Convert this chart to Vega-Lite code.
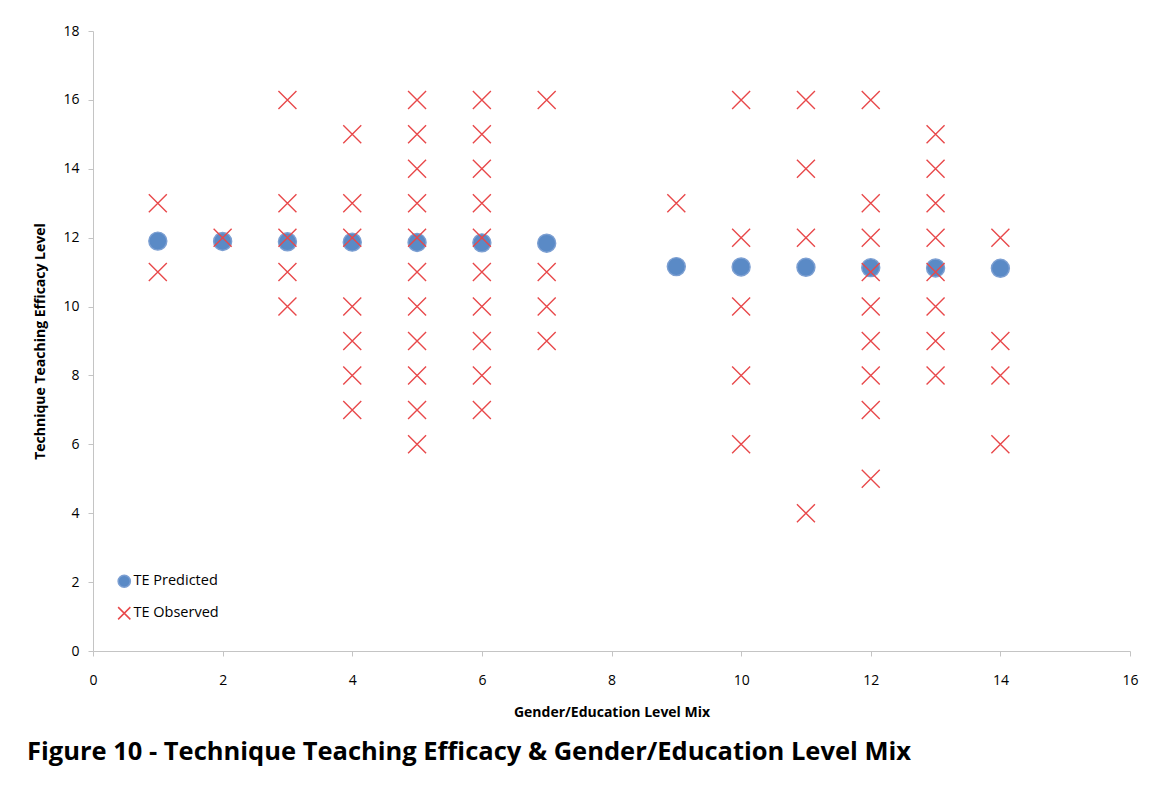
{
  "$schema": "https://vega.github.io/schema/vega-lite/v6.json",
  "width": 1037,
  "height": 620,
  "autosize": {"type": "none"},
  "padding": {"left": 93, "top": 31, "right": 19, "bottom": 137},
  "background": "white",
  "config": {
    "view": {"stroke": null},
    "font": "Open Sans",
    "axis": {
      "grid": false,
      "labelFlush": false,
      "domainColor": "#c4c4c4",
      "tickColor": "#c4c4c4",
      "tickSize": 5,
      "labelFont": "Open Sans",
      "labelFontSize": 14,
      "labelColor": "#000000",
      "titleFont": "Open Sans",
      "titleFontSize": 14,
      "titleFontWeight": "bold",
      "titleColor": "#000000"
    }
  },
  "title": {
    "text": "Figure 10 - Technique Teaching Efficacy & Gender/Education Level Mix",
    "orient": "bottom",
    "anchor": "start",
    "frame": "group",
    "dx": -66,
    "offset": 21,
    "font": "Open Sans",
    "fontSize": 25.5,
    "fontWeight": "bold",
    "color": "#000000"
  },
  "data": {
    "values": [
      {"x": 1, "y": 11.9, "series": "TE Predicted"},
      {"x": 2, "y": 11.89, "series": "TE Predicted"},
      {"x": 3, "y": 11.88, "series": "TE Predicted"},
      {"x": 4, "y": 11.87, "series": "TE Predicted"},
      {"x": 5, "y": 11.86, "series": "TE Predicted"},
      {"x": 6, "y": 11.85, "series": "TE Predicted"},
      {"x": 7, "y": 11.84, "series": "TE Predicted"},
      {"x": 9, "y": 11.16, "series": "TE Predicted"},
      {"x": 10, "y": 11.15, "series": "TE Predicted"},
      {"x": 11, "y": 11.14, "series": "TE Predicted"},
      {"x": 12, "y": 11.13, "series": "TE Predicted"},
      {"x": 13, "y": 11.12, "series": "TE Predicted"},
      {"x": 14, "y": 11.11, "series": "TE Predicted"},
      {"x": 1, "y": 13, "series": "TE Observed"},
      {"x": 1, "y": 11, "series": "TE Observed"},
      {"x": 2, "y": 12, "series": "TE Observed"},
      {"x": 3, "y": 16, "series": "TE Observed"},
      {"x": 3, "y": 13, "series": "TE Observed"},
      {"x": 3, "y": 12, "series": "TE Observed"},
      {"x": 3, "y": 11, "series": "TE Observed"},
      {"x": 3, "y": 10, "series": "TE Observed"},
      {"x": 4, "y": 15, "series": "TE Observed"},
      {"x": 4, "y": 13, "series": "TE Observed"},
      {"x": 4, "y": 12, "series": "TE Observed"},
      {"x": 4, "y": 10, "series": "TE Observed"},
      {"x": 4, "y": 9, "series": "TE Observed"},
      {"x": 4, "y": 8, "series": "TE Observed"},
      {"x": 4, "y": 7, "series": "TE Observed"},
      {"x": 5, "y": 16, "series": "TE Observed"},
      {"x": 5, "y": 15, "series": "TE Observed"},
      {"x": 5, "y": 14, "series": "TE Observed"},
      {"x": 5, "y": 13, "series": "TE Observed"},
      {"x": 5, "y": 12, "series": "TE Observed"},
      {"x": 5, "y": 11, "series": "TE Observed"},
      {"x": 5, "y": 10, "series": "TE Observed"},
      {"x": 5, "y": 9, "series": "TE Observed"},
      {"x": 5, "y": 8, "series": "TE Observed"},
      {"x": 5, "y": 7, "series": "TE Observed"},
      {"x": 5, "y": 6, "series": "TE Observed"},
      {"x": 6, "y": 16, "series": "TE Observed"},
      {"x": 6, "y": 15, "series": "TE Observed"},
      {"x": 6, "y": 14, "series": "TE Observed"},
      {"x": 6, "y": 13, "series": "TE Observed"},
      {"x": 6, "y": 12, "series": "TE Observed"},
      {"x": 6, "y": 11, "series": "TE Observed"},
      {"x": 6, "y": 10, "series": "TE Observed"},
      {"x": 6, "y": 9, "series": "TE Observed"},
      {"x": 6, "y": 8, "series": "TE Observed"},
      {"x": 6, "y": 7, "series": "TE Observed"},
      {"x": 7, "y": 16, "series": "TE Observed"},
      {"x": 7, "y": 11, "series": "TE Observed"},
      {"x": 7, "y": 10, "series": "TE Observed"},
      {"x": 7, "y": 9, "series": "TE Observed"},
      {"x": 9, "y": 13, "series": "TE Observed"},
      {"x": 10, "y": 16, "series": "TE Observed"},
      {"x": 10, "y": 12, "series": "TE Observed"},
      {"x": 10, "y": 10, "series": "TE Observed"},
      {"x": 10, "y": 8, "series": "TE Observed"},
      {"x": 10, "y": 6, "series": "TE Observed"},
      {"x": 11, "y": 16, "series": "TE Observed"},
      {"x": 11, "y": 14, "series": "TE Observed"},
      {"x": 11, "y": 12, "series": "TE Observed"},
      {"x": 11, "y": 4, "series": "TE Observed"},
      {"x": 12, "y": 16, "series": "TE Observed"},
      {"x": 12, "y": 13, "series": "TE Observed"},
      {"x": 12, "y": 12, "series": "TE Observed"},
      {"x": 12, "y": 11, "series": "TE Observed"},
      {"x": 12, "y": 10, "series": "TE Observed"},
      {"x": 12, "y": 9, "series": "TE Observed"},
      {"x": 12, "y": 8, "series": "TE Observed"},
      {"x": 12, "y": 7, "series": "TE Observed"},
      {"x": 12, "y": 5, "series": "TE Observed"},
      {"x": 13, "y": 15, "series": "TE Observed"},
      {"x": 13, "y": 14, "series": "TE Observed"},
      {"x": 13, "y": 13, "series": "TE Observed"},
      {"x": 13, "y": 12, "series": "TE Observed"},
      {"x": 13, "y": 11, "series": "TE Observed"},
      {"x": 13, "y": 10, "series": "TE Observed"},
      {"x": 13, "y": 9, "series": "TE Observed"},
      {"x": 13, "y": 8, "series": "TE Observed"},
      {"x": 14, "y": 12, "series": "TE Observed"},
      {"x": 14, "y": 9, "series": "TE Observed"},
      {"x": 14, "y": 8, "series": "TE Observed"},
      {"x": 14, "y": 6, "series": "TE Observed"}
    ]
  },
  "mark": {"type": "point", "filled": false, "size": 324, "strokeWidth": 1.4, "opacity": 1},
  "encoding": {
    "x": {
      "field": "x",
      "type": "quantitative",
      "scale": {"domain": [0, 16], "nice": false},
      "axis": {"values": [0, 2, 4, 6, 8, 10, 12, 14, 16], "title": "Gender/Education Level Mix", "labelPadding": 17, "titlePadding": 18}
    },
    "y": {
      "field": "y",
      "type": "quantitative",
      "scale": {"domain": [0, 18], "nice": false},
      "axis": {"values": [0, 2, 4, 6, 8, 10, 12, 14, 16, 18], "title": "Technique Teaching Efficacy Level", "labelPadding": 9, "titlePadding": 15}
    },
    "fill": {
      "field": "series",
      "type": "nominal",
      "scale": {"domain": ["TE Predicted", "TE Observed"], "range": ["#5A8AC6", "transparent"]},
      "legend": {
        "title": null,
        "orient": "none",
        "legendX": 24,
        "legendY": 543,
        "labelFont": "Open Sans",
        "labelFontSize": 14.5,
        "labelColor": "#000000",
        "symbolSize": 150,
        "rowPadding": 13,
        "labelOffset": 2
      }
    },
    "stroke": {
      "field": "series",
      "type": "nominal",
      "scale": {"domain": ["TE Predicted", "TE Observed"], "range": ["#7C9FD2", "#E8484A"]}
    },
    "shape": {
      "field": "series",
      "type": "nominal",
      "scale": {"domain": ["TE Predicted", "TE Observed"], "range": ["circle", "M-1,-1L1,1M-1,1L1,-1"]}
    }
  }
}
